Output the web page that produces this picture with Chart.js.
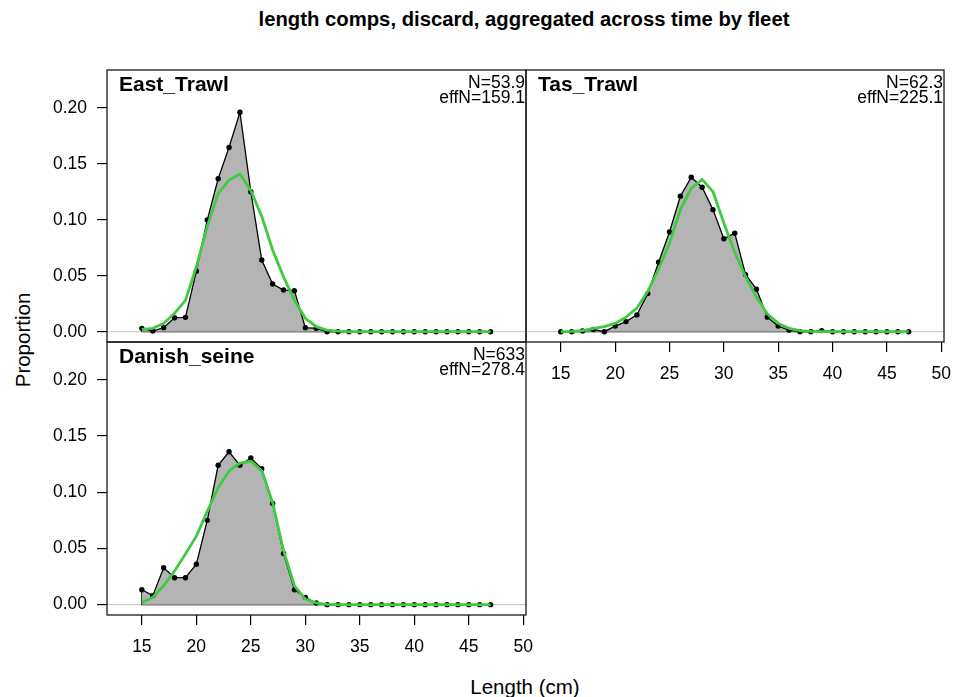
<!DOCTYPE html>
<html>
<head>
<meta charset="utf-8">
<script src="https://cdn.jsdelivr.net/npm/chart.js@4.4.0/dist/chart.umd.min.js"></script>
<style>
  body { margin: 0; background: #fff; width: 955px; height: 697px; position: relative; overflow: hidden;
         font-family: Arial, "Liberation Sans", Helvetica, sans-serif; }
  .box { position: absolute; }
  .txt { position: absolute; color: #000; white-space: nowrap; }
</style>
</head>
<body>
<div class="txt" style="left:0;width:1048px;top:8px;text-align:center;font-weight:bold;font-size:20.3px;">length comps, discard, aggregated across time by fleet</div>
<div class="txt" style="left:23px;top:340px;font-size:20.5px;transform:translate(-50%,-50%) rotate(-90deg);">Proportion</div>
<div class="txt" style="left:525px;top:687px;font-size:20.5px;transform:translate(-50%,-50%);">Length (cm)</div>

<div class="box" style="left:0;top:60px;"><canvas id="eastChart" width="540" height="290"></canvas></div>
<div class="box" style="left:520px;top:60px;"><canvas id="tasChart" width="435" height="340"></canvas></div>
<div class="box" style="left:0;top:330px;"><canvas id="danishChart" width="540" height="367"></canvas></div>

<script>
// length bins (cm)
const lengthBins = [15, 16, 17, 18, 19, 20, 21, 22, 23, 24, 25, 26, 27, 28, 29, 30, 31,
  32, 33, 34, 35, 36, 37, 38, 39, 40, 41, 42, 43, 44, 45, 46, 47];

const xTicks = [15, 20, 25, 30, 35, 40, 45, 50];
const yTicks = [0, 0.05, 0.10, 0.15, 0.20];

// observed (black) and expected (green) proportions per fleet
const eastObs = [0.003, 0.0006, 0.0036, 0.0125, 0.0128, 0.054, 0.0997, 0.1366, 0.1646, 0.196, 0.125,
  0.064, 0.0426, 0.0372, 0.0366, 0.0036, 0.003, 0, 0, 0, 0, 0, 0, 0, 0, 0, 0, 0, 0, 0, 0, 0, 0];
const eastExp = [0.002, 0.003, 0.0074, 0.0164, 0.028, 0.058, 0.094, 0.1235, 0.1354, 0.1408, 0.126,
  0.103, 0.073, 0.049, 0.028, 0.012, 0.0045, 0.0015, 0.0005, 0, 0, 0, 0, 0, 0, 0, 0, 0, 0, 0, 0, 0, 0];

const tasObs = [0, 0, 0.0006, 0.002, 0, 0.005, 0.009, 0.015, 0.034, 0.062, 0.089, 0.121, 0.138,
  0.129, 0.109, 0.083, 0.088, 0.051, 0.038, 0.013, 0.005, 0.0015, 0, 0, 0.001, 0, 0, 0, 0, 0, 0, 0, 0];
const tasExp = [0, 0.0003, 0.001, 0.003, 0.0045, 0.0074, 0.013, 0.021, 0.036, 0.056, 0.079, 0.109,
  0.128, 0.136, 0.125, 0.097, 0.071, 0.049, 0.031, 0.016, 0.0074, 0.003, 0.001, 0.0003, 0, 0, 0, 0, 0, 0, 0, 0, 0];

const danishObs = [0.0133, 0.008, 0.0328, 0.024, 0.024, 0.036, 0.075, 0.124, 0.136, 0.124, 0.1305,
  0.121, 0.090, 0.0455, 0.0133, 0.0065, 0.0015, 0, 0, 0, 0, 0, 0, 0, 0, 0, 0, 0, 0, 0, 0, 0, 0];
const danishExp = [0.002, 0.0065, 0.0168, 0.030, 0.045, 0.061, 0.083, 0.104, 0.119, 0.126, 0.1276,
  0.119, 0.0907, 0.048, 0.0168, 0.005, 0.0015, 0.0003, 0, 0, 0, 0, 0, 0, 0, 0, 0, 0, 0, 0, 0, 0, 0];

const fleetNames = ['East_Trawl', 'Tas_Trawl', 'Danish_seine'];
const sampleN = ['53.9', '62.3', '633'];
const effN = ['159.1', '225.1', '278.4'];

const FONT = 'Arial, "Liberation Sans", Helvetica, sans-serif';
const GREEN = '#3fcb3f';
const FILL = '#b4b4b4';

function toPoints(vals) {
  return lengthBins.map((x, i) => ({ x: x, y: vals[i] }));
}

// scales keep no extra room for half labels, so the plot box stays where the padding puts it
function noScalePadding(s) {
  s.paddingTop = 0;
  s.paddingBottom = 0;
  s.paddingLeft = 0;
  s.paddingRight = 0;
}

// zero line, polygon base, panel frame and labels
const panelDeco = {
  id: 'panelDeco',
  beforeDatasetsDraw(chart) {
    const { ctx, chartArea: a, scales: { x, y } } = chart;
    const obs = chart.data.datasets[1].data;
    const y0 = y.getPixelForValue(0);
    ctx.save();
    ctx.strokeStyle = '#c4c4c4';
    ctx.lineWidth = 1;
    ctx.beginPath();
    ctx.moveTo(a.left, y0);
    ctx.lineTo(a.right, y0);
    ctx.stroke();
    ctx.strokeStyle = '#000';
    ctx.lineWidth = 1.3;
    ctx.beginPath();
    ctx.moveTo(x.getPixelForValue(obs[obs.length - 1].x), y0);
    ctx.lineTo(x.getPixelForValue(obs[0].x), y0);
    ctx.lineTo(x.getPixelForValue(obs[0].x), y.getPixelForValue(obs[0].y));
    ctx.stroke();
    ctx.restore();
  },
  afterDraw(chart, args, opts) {
    const { ctx, chartArea: a } = chart;
    ctx.save();
    ctx.strokeStyle = '#1a1a1a';
    ctx.lineWidth = 1.3;
    ctx.strokeRect(a.left, a.top, a.right - a.left, a.bottom - a.top);
    ctx.fillStyle = '#000';
    ctx.textBaseline = 'alphabetic';
    ctx.font = 'bold 21px ' + FONT;
    ctx.textAlign = 'left';
    ctx.fillText(opts.name, a.left + 12, a.top + 20.5);
    ctx.font = '17.5px ' + FONT;
    ctx.textAlign = 'right';
    ctx.fillText('N=' + opts.n, a.right - 1, a.top + 17.5);
    ctx.fillText('effN=' + opts.effN, a.right - 1, a.top + 33);
    ctx.restore();
  }
};

function panelChart(id, idx, obs, exp, cfg) {
  return new Chart(document.getElementById(id), {
    type: 'line',
    data: {
      datasets: [
        {
          data: toPoints(exp),
          borderColor: GREEN,
          borderWidth: 2.8,
          pointRadius: 0,
          fill: false,
          order: 0
        },
        {
          data: toPoints(obs),
          borderColor: '#000',
          borderWidth: 1.3,
          pointRadius: 2.7,
          pointBackgroundColor: '#000',
          pointBorderWidth: 0,
          fill: 'origin',
          backgroundColor: FILL,
          order: 1
        }
      ]
    },
    options: {
      responsive: false,
      animation: false,
      events: [],
      layout: { padding: cfg.padding },
      plugins: {
        legend: { display: false },
        tooltip: { enabled: false },
        panelDeco: { name: fleetNames[idx], n: sampleN[idx], effN: effN[idx] }
      },
      scales: {
        x: {
          type: 'linear',
          min: 11.8,
          max: 50.25,
          display: cfg.showX,
          afterBuildTicks: s => { s.ticks = xTicks.map(v => ({ value: v })); },
          afterFit: s => { s.height = cfg.showX ? cfg.xHeight : 0; noScalePadding(s); },
          ticks: { color: '#000', font: { family: FONT, size: 17.5 }, padding: 12, maxRotation: 0, autoSkip: false,
                   callback: v => String(v) },
          grid: { drawOnChartArea: false, tickLength: 10, tickColor: '#000', lineWidth: 1.2 },
          border: { display: false }
        },
        y: {
          type: 'linear',
          min: -0.0092,
          max: 0.2337,
          display: cfg.showY,
          afterBuildTicks: s => { s.ticks = yTicks.map(v => ({ value: v })); },
          afterFit: s => { s.width = cfg.showY ? 107 : 0; noScalePadding(s); },
          ticks: { color: '#000', font: { family: FONT, size: 17.5 }, padding: 10,
                   callback: v => v.toFixed(2) },
          grid: { drawOnChartArea: false, tickLength: 10, tickColor: '#000', lineWidth: 1.2 },
          border: { display: false }
        }
      }
    },
    plugins: [panelDeco]
  });
}

panelChart('eastChart', 0, eastObs, eastExp,
  { showX: false, showY: true, padding: { left: 0, top: 10, right: 14, bottom: 8 } });
panelChart('tasChart', 1, tasObs, tasExp,
  { showX: true, showY: false, xHeight: 58, padding: { left: 6, top: 10, right: 11, bottom: 0 } });
panelChart('danishChart', 2, danishObs, danishExp,
  { showX: true, showY: true, xHeight: 82, padding: { left: 0, top: 12, right: 14, bottom: 0 } });
</script>
</body>
</html>
